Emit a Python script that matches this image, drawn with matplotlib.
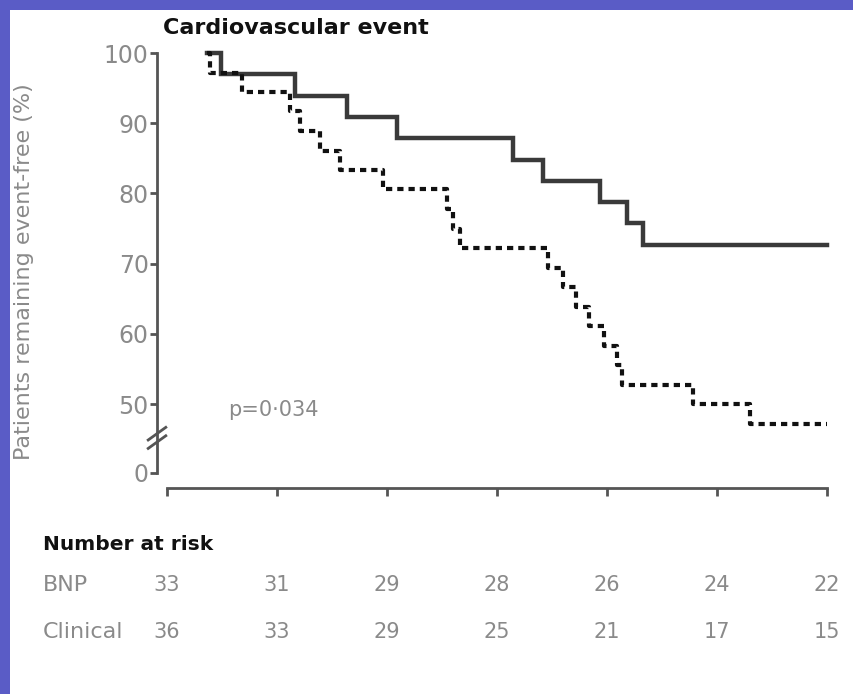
import matplotlib
matplotlib.use("Agg")
import matplotlib.pyplot as plt
import matplotlib.transforms as mtransforms
from matplotlib.patches import Rectangle

# Kaplan-Meier steps: (time, % event-free) for each arm
bnp_time = [0.36, 0.49, 1.16, 1.64, 2.09, 3.15, 3.42, 3.94, 4.18, 4.33, 6.0]
bnp_surv = [100.0, 97.0, 93.9, 90.9, 87.9, 84.8, 81.8, 78.8, 75.8, 72.7, 72.7]

clin_time = [0.36, 0.39, 0.68, 1.12, 1.21, 1.39, 1.57, 1.96, 2.55, 2.60, 2.66,
             3.46, 3.60, 3.72, 3.84, 3.97, 4.09, 4.14, 4.78, 5.30, 6.0]
clin_surv = [100.0, 97.2, 94.4, 91.7, 88.9, 86.1, 83.3, 80.6, 77.8, 75.0, 72.2,
             69.4, 66.7, 63.9, 61.1, 58.3, 55.6, 52.8, 50.0, 47.2, 47.2]

risk_times = [0, 1, 2, 3, 4, 5, 6]
risk_bnp = [33, 31, 29, 28, 26, 24, 22]
risk_clin = [36, 33, 29, 25, 21, 17, 15]

ytick_vals = [40.2, 50, 60, 70, 80, 90, 100]
ytick_labels = ["0", "50", "60", "70", "80", "90", "100"]

grey = "#8a8a8a"
W, H = 854, 694

fig = plt.figure(figsize=(W / 100, H / 100), dpi=100, facecolor="#5a5cc6")
# white slide area inside the blue frame
fig.patches.append(Rectangle((10 / W, 0), 1 - 10 / W, 1 - 10 / H,
                             transform=fig.transFigure, facecolor="white",
                             edgecolor="none", zorder=-10))

ax = fig.add_axes([167 / W, (H - 473) / H, 660 / W, 420 / H])
ax.set_facecolor("none")
ax.step(bnp_time, bnp_surv, where="post", color="#3a3a3a", lw=3.2,
        solid_joinstyle="miter", clip_on=False)
ax.step(clin_time, clin_surv, where="post", color="#111111", lw=3.0,
        linestyle=(0, (1.5, 1.2)), clip_on=False)

ax.set_xlim(0, 6)
ax.set_ylim(40.2, 100)
for s in ["top", "right"]:
    ax.spines[s].set_visible(False)
ax.spines["left"].set_position(("outward", 7.2))
ax.spines["bottom"].set_position(("outward", 10.8))
for s in ["left", "bottom"]:
    ax.spines[s].set_color("#555555")
    ax.spines[s].set_linewidth(2.0)

ax.set_xticks(risk_times)
ax.set_xticklabels([])
ax.tick_params(axis="x", direction="out", length=6, width=2, color="#555555")
ax.set_yticks(ytick_vals)
ax.set_yticklabels(ytick_labels)
ax.tick_params(axis="y", direction="out", length=5, width=2, color="#555555",
               labelsize=17, labelcolor=grey, pad=1)

# axis break marks on the y axis
brk = ax.transData + mtransforms.ScaledTranslation(-10 / 100, 0, fig.dpi_scale_trans)
for y0 in (44.6, 45.8):
    ax.plot([-0.08, 0.08], [y0 - 0.9, y0 + 0.9], color="#555555", lw=2,
            transform=brk, clip_on=False)

ax.text(0.555, 49.2, "p=0\u00b7034", fontsize=15, color=grey, va="center")

fig.text(163 / W, 1 - 28 / H, "Cardiovascular event", fontsize=16,
         fontweight="bold", color="#111111", va="center")
fig.text(24 / W, 1 - 272 / H, "Patients remaining event-free (%)", fontsize=16,
         color=grey, rotation=90, va="center", ha="center")

# number at risk table under the axis ticks
fig.text(43 / W, 1 - 545 / H, "Number at risk", fontsize=14.5, fontweight="bold",
         color="#111111", va="center")
row_tr = mtransforms.blended_transform_factory(ax.transData, fig.transFigure)
for label, vals, py in [("BNP", risk_bnp, 585), ("Clinical", risk_clin, 632)]:
    fig.text(43 / W, 1 - py / H, label, fontsize=16, color=grey, va="center")
    for t, n in zip(risk_times, vals):
        ax.text(t, 1 - py / H, str(n), transform=row_tr, fontsize=15,
                color=grey, ha="center", va="center")

fig.savefig("out.png", dpi=100, facecolor=fig.get_facecolor())
